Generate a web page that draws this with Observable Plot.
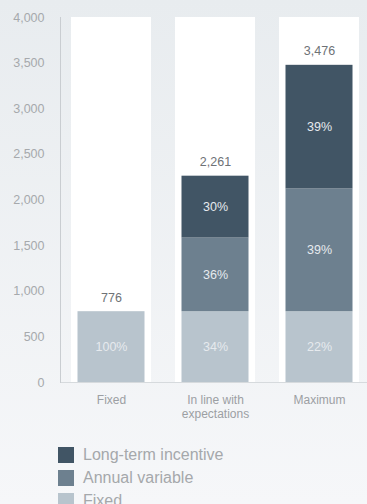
<!DOCTYPE html>
<html>
<head>
<meta charset="utf-8">
<script src="https://cdn.jsdelivr.net/npm/d3@7"></script>
<script src="https://cdn.jsdelivr.net/npm/@observablehq/plot@0.6"></script>
<style>
  html, body { margin: 0; padding: 0; width: 367px; height: 504px; overflow: hidden; }
  body { background: linear-gradient(to bottom, #e8ecef 0%, #f6f7f9 100%); font-family: "Liberation Sans", Arial, Helvetica, sans-serif; }
  #chart svg { display: block; background: transparent; }
  .legend { margin-top: 13px; padding-left: 58px; }
  .legend .row { display: flex; align-items: center; height: 23px; }
  .legend .sw { width: 16px; height: 16px; margin-right: 9px; flex: none; }
  .legend .lab { font-size: 16px; color: #a5a8ab; line-height: 16px; }
</style>
</head>
<body>
<div id="chart"></div>
<script>
// ---- data ----
const categories = ["Fixed", "In line with expectations", "Maximum"];
const axisLabels = ["Fixed", "In line with\nexpectations", "Maximum"];
const components = ["Fixed", "Annual variable", "Long-term incentive"];
const legendOrder = ["Long-term incentive", "Annual variable", "Fixed"];
const colors = ["#b8c4cd", "#6d808f", "#415565"];
const fixedValues = [776, 776, 776];
const annualValues = [0, 807, 1345];
const ltiValues = [0, 678, 1355];
const fixedPct = ["100%", "34%", "22%"];
const annualPct = ["", "36%", "39%"];
const ltiPct = ["", "30%", "39%"];
const totals = [776, 2261, 3476];
const yTicks = [0, 500, 1000, 1500, 2000, 2500, 3000, 3500, 4000];
const yMax = 4000;

// ---- build table ----
const rows = [];
categories.forEach((c, i) => {
  [[fixedValues, fixedPct, 0], [annualValues, annualPct, 1], [ltiValues, ltiPct, 2]].forEach(([vals, pcts, k]) => {
    if (vals[i] > 0) rows.push({category: c, component: components[k], value: vals[i], pct: pcts[i]});
  });
});
const totalRows = categories.map((c, i) => ({category: c, total: totals[i]}));
const labelOf = new Map(categories.map((c, i) => [c, axisLabels[i]]));

const plot = Plot.plot({
  width: 367,
  height: 430,
  marginTop: 17,
  marginBottom: 48,
  marginLeft: 60,
  marginRight: 0,
  style: {fontFamily: "'Liberation Sans', Arial, Helvetica, sans-serif", background: "transparent"},
  x: {domain: categories, range: [71, 359], paddingInner: 0.2308, paddingOuter: 0, axis: null},
  y: {domain: [0, yMax], axis: null},
  color: {domain: components, range: colors},
  marks: [
    Plot.barY(categories, {x: d => d, y1: 0, y2: yMax, fill: "#ffffff"}),
    Plot.barY(rows, {x: "category", y: "value", fill: "component", insetLeft: 6.5, insetRight: 6.5}),
    Plot.text(rows, Plot.stackY({x: "category", y: "value", text: "pct", fill: "#e6eaee", fontSize: 12.5})),
    Plot.text(totalRows, {x: "category", y: "total", text: d => d3.format(",")(d.total), dy: -14, fill: "#6e7276", fontSize: 12.5}),
    Plot.ruleY([0], {stroke: "#d6dadd", strokeWidth: 1.2}),
    Plot.frame({anchor: "left", stroke: "#c9cdd1"}),
    Plot.axisY({ticks: yTicks, tickSize: 0, tickPadding: 16, tickFormat: d3.format(","), fill: "#a6a9ac", fontSize: 12.5, label: null}),
    Plot.axisX({tickSize: 0, tickPadding: 11, tickFormat: d => labelOf.get(d), fill: "#9c9fa3", fontSize: 12, label: null, lineHeight: 1.2})
  ]
});
document.getElementById("chart").appendChild(plot);

// ---- legend ----
const legend = document.createElement("div");
legend.className = "legend";
legendOrder.forEach(name => {
  const row = document.createElement("div");
  row.className = "row";
  const sw = document.createElement("div");
  sw.className = "sw";
  sw.style.background = colors[components.indexOf(name)];
  const lab = document.createElement("span");
  lab.className = "lab";
  lab.textContent = name;
  row.appendChild(sw);
  row.appendChild(lab);
  legend.appendChild(row);
});
document.body.appendChild(legend);
</script>
</body>
</html>
